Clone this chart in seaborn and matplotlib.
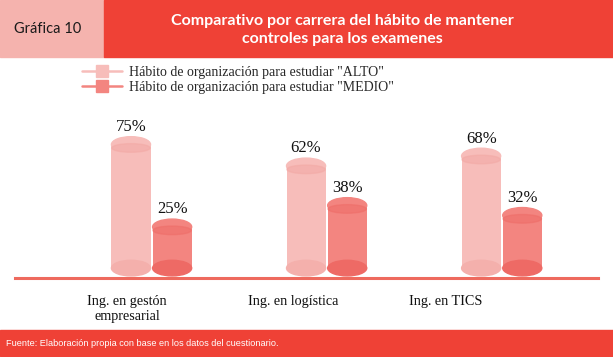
"""Gráfica 10: comparativo por carrera (cilindros con seaborn)."""

import matplotlib.pyplot as plt
import pandas as pd
import seaborn as sns
from matplotlib.lines import Line2D
from matplotlib.patches import Ellipse, Rectangle

carreras = ["Ing. en gestón\nempresarial", "Ing. en logística", "Ing. en TICS"]
niveles = ['Hábito de organización para estudiar "ALTO"',
           'Hábito de organización para estudiar "MEDIO"']
alto = [75, 62, 68]
medio = [25, 38, 32]

titulo = "Comparativo por carrera del hábito de mantener\ncontroles para los examenes"
grafica = "Gráfica 10"
fuente = "Fuente: Elaboración propia con base en los datos del cuestionario."

body = ["#F7BDBA", "#F38580"]
top = ["#F3AAA6", "#EF6E69"]
bottom = ["#F4B0AC", "#EE6A65"]

df = pd.DataFrame({
    "carrera": carreras * 2,
    "nivel": [niveles[0]] * 3 + [niveles[1]] * 3,
    "valor": alto + medio,
})

sns.set_theme(style="white")
plt.rcParams["font.family"] = ["Liberation Serif", "DejaVu Serif"]

fig = plt.figure(figsize=(6.13, 3.57), dpi=100)
ax = fig.add_axes([15 / 613, 79 / 357, 583 / 613, 178 / 357])

sns.barplot(data=df, x="carrera", y="valor", hue="nivel", palette=body,
            width=0.47, gap=0.05, legend=False, ax=ax, saturation=1)

eh = 9.5  # ellipse height in data units
for i, bar in enumerate(ax.patches):
    k = 0 if i < 3 else 1
    x0, w, h = bar.get_x(), bar.get_width(), bar.get_height()
    bar.set_edgecolor("none")
    ax.add_patch(Ellipse((x0 + w / 2, 0), w, eh, color=bottom[k], zorder=1.5))
    ax.add_patch(Ellipse((x0 + w / 2, h), w, eh, color=body[k], zorder=3))
    ax.add_patch(Ellipse((x0 + w / 2, h - eh * 0.22), w * 0.98, eh * 0.55,
                         color=top[k], zorder=3.2, alpha=0.6))
    ax.text(x0 + w / 2, h + eh / 2 + 1, f"{int(h)}%", ha="center", va="bottom",
            fontsize=12, color="#111111", zorder=4)

ax.set_ylim(-6, 102)
ax.set_xlim(-0.78, 2.55)
ax.set_xlabel("")
ax.set_ylabel("")
ax.set_yticks([])
# category labels sit a little left of their bar pairs, as in the original
ax.set_xticks([-0.14, 0.81, 1.68], carreras)
ax.tick_params(axis="x", length=0, pad=12, labelsize=10.2, labelcolor="#111111")
for s in ["top", "left", "right"]:
    ax.spines[s].set_visible(False)
ax.spines["bottom"].set_color("#EE6A5E")
ax.spines["bottom"].set_linewidth(2.2)

# legend
handles = [Line2D([0], [0], color=body[0], lw=1.8, marker="s", markersize=8),
           Line2D([0], [0], color=body[1], lw=1.8, marker="s", markersize=8)]
fig.legend(handles, niveles, loc="upper left", bbox_to_anchor=(76 / 613, 1 - 60 / 357),
           frameon=False, fontsize=10, handlelength=2.9, handletextpad=0.5,
           labelspacing=0.2, borderaxespad=0)

# header
fig.patches.append(Rectangle((0, 1 - 57 / 357), 104 / 613, 57 / 357,
                             transform=fig.transFigure, color="#F5B3AE", zorder=0))
fig.patches.append(Rectangle((104 / 613, 1 - 57 / 357), 509 / 613, 57 / 357,
                             transform=fig.transFigure, color="#EF4136", zorder=0))
fig.text(48 / 613, 1 - 29 / 357, grafica, ha="center", va="center", fontsize=10.5,
         family=["Lato", "DejaVu Sans"], color="#1a1a1a")
fig.text(342 / 613, 1 - 30 / 357, titulo, ha="center", va="center", fontsize=11.5,
         fontweight="bold", family=["Lato", "DejaVu Sans"], color="white",
         linespacing=1.45)

# footer
fig.patches.append(Rectangle((0, 1 / 357), 1, 26 / 357, transform=fig.transFigure,
                             color="#EF4136", zorder=0))
fig.text(6 / 613, 14 / 357, fuente, ha="left", va="center", fontsize=6.6,
         family=["Liberation Sans Narrow", "Liberation Sans"], color="white")

fig.savefig("out.png", dpi=100)
